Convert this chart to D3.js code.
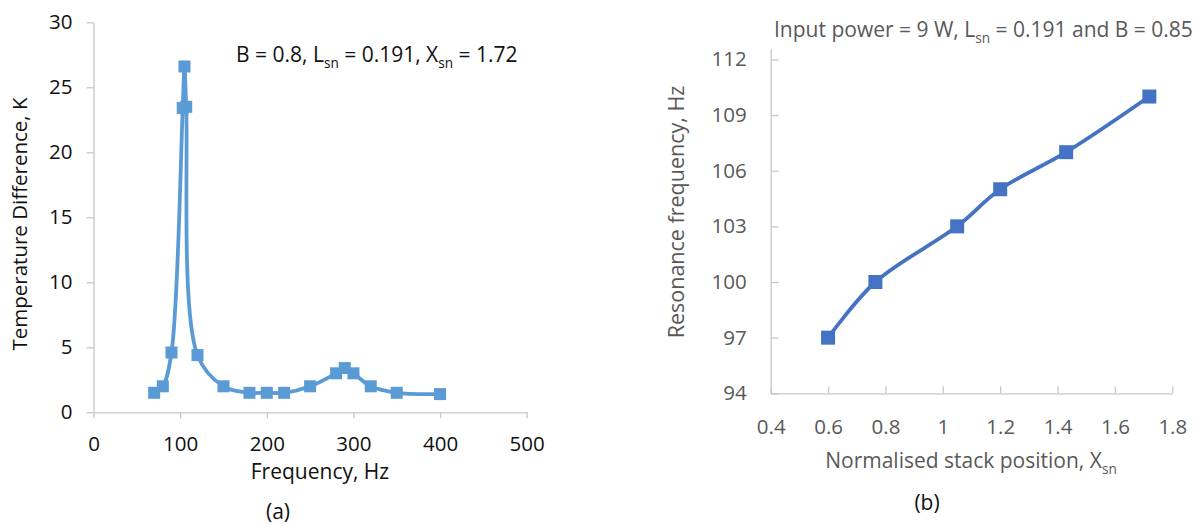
<!DOCTYPE html>
<html>
<head>
<meta charset="utf-8">
<script src="https://cdn.jsdelivr.net/npm/d3@7.9.0/dist/d3.min.js"></script>
<style>
  html, body { margin: 0; padding: 0; background: #fff; }
  svg { display: block; font-family: "Open Sans", "Noto Sans", sans-serif; }
  .axis path, .axis line { stroke: #c8c8c8; stroke-width: 1.3; }
</style>
</head>
<body>
<svg id="chart" width="1201" height="524"></svg>
<script>
// ---- data: (a) temperature difference vs frequency ----
const freqA = [70, 80, 90, 103, 105, 107, 120, 150, 180, 200, 220, 250, 280, 290, 300, 320, 350, 400];
const dTempA = [1.5, 2.0, 4.6, 23.4, 26.6, 23.5, 4.4, 2.0, 1.5, 1.5, 1.5, 2.0, 3.0, 3.4, 3.0, 2.0, 1.5, 1.4];
const xTicksA = [0, 100, 200, 300, 400, 500];
const yTicksA = [0, 5, 10, 15, 20, 25, 30];

// ---- data: (b) resonance frequency vs stack position ----
const xsnB = [0.6, 0.765, 1.05, 1.2, 1.43, 1.72];
const fresB = [97, 100, 103, 105, 107, 110];
const xTicksB = [0.4, 0.6, 0.8, 1, 1.2, 1.4, 1.6, 1.8];
const yTicksB = [94, 97, 100, 103, 106, 109, 112];

const svg = d3.select('#chart');

// text with subscripts: parts = [[text, isSub], ...]
function richText(g, parts, fontSize) {
  const t = g.append('text').attr('font-size', fontSize);
  const shift = fontSize * 0.28;
  parts.forEach(([s, sub], i) => {
    const ts = t.append('tspan').text(s);
    if (sub) ts.attr('font-size', fontSize * 0.65).attr('dy', shift);
    else if (i > 0 && parts[i - 1][1]) ts.attr('dy', -shift);
  });
  return t;
}

// ========== chart (a) ==========
{
  const ink = '#111';
  const x = d3.scaleLinear().domain([0, 500]).range([93.5, 526.7]);
  const y = d3.scaleLinear().domain([0, 30]).range([412.3, 22.3]);

  const gx = svg.append('g').attr('class', 'axis')
    .attr('transform', `translate(0,${y(0)})`)
    .call(d3.axisBottom(x).tickValues(xTicksA).tickSize(6).tickSizeOuter(0).tickPadding(18));
  const gy = svg.append('g').attr('class', 'axis')
    .attr('transform', `translate(${x(0)},0)`)
    .call(d3.axisLeft(y).tickValues(yTicksA).tickSize(7).tickSizeOuter(0).tickPadding(14));
  [gx, gy].forEach(g => g.selectAll('text')
    .attr('fill', ink).attr('font-size', 20.5).attr('font-family', '"Open Sans", sans-serif'));

  const line = d3.line()
    .x((d, i) => x(freqA[i]))
    .y(d => y(d))
    .curve(d3.curveCatmullRom);
  svg.append('path')
    .datum(dTempA)
    .attr('d', line)
    .attr('fill', 'none')
    .attr('stroke', '#5b9bd5')
    .attr('stroke-width', 3.8);

  const m = 12;
  svg.append('g').selectAll('rect')
    .data(dTempA)
    .join('rect')
    .attr('x', (d, i) => x(freqA[i]) - m / 2)
    .attr('y', d => y(d) - m / 2)
    .attr('width', m).attr('height', m)
    .attr('fill', '#5b9bd5');

  svg.append('text')
    .attr('transform', 'translate(27,224) rotate(-90)')
    .attr('text-anchor', 'middle')
    .attr('font-size', 20.5).attr('fill', ink)
    .text('Temperature Difference, K');

  svg.append('text')
    .attr('x', 320).attr('y', 479)
    .attr('text-anchor', 'middle')
    .attr('font-size', 21).attr('fill', ink)
    .text('Frequency, Hz');

  svg.append('text')
    .attr('x', 278).attr('y', 519)
    .attr('text-anchor', 'middle')
    .attr('font-size', 21).attr('fill', ink)
    .text('(a)');

  richText(svg.append('g'), [
    ['B = 0.8, L', false], ['sn', true], [' = 0.191, X', false], ['sn', true], [' = 1.72', false]
  ], 21).attr('x', 236).attr('y', 62).attr('fill', ink);
}

// ========== chart (b) ==========
{
  const ink = '#595959';
  const x = d3.scaleLinear().domain([0.4, 1.8]).range([770.7, 1172.3]);
  const y = d3.scaleLinear().domain([94, 112.6]).range([393.3, 48.3]);

  const gx = svg.append('g').attr('class', 'axis')
    .attr('transform', `translate(0,${y(94)})`)
    .call(d3.axisBottom(x).tickValues(xTicksB).tickSize(-7).tickSizeOuter(0).tickPadding(26)
      .tickFormat(d => String(+d.toFixed(1))));
  const gy = svg.append('g').attr('class', 'axis')
    .attr('transform', `translate(${x(0.4)},0)`)
    .call(d3.axisLeft(y).tickValues(yTicksB).tickSize(-8).tickSizeOuter(0).tickPadding(24));
  [gx, gy].forEach(g => g.selectAll('text')
    .attr('fill', ink).attr('font-size', 20.5).attr('font-family', '"Open Sans", sans-serif'));

  const line = d3.line()
    .x((d, i) => x(xsnB[i]))
    .y(d => y(d))
    .curve(d3.curveCatmullRom);
  svg.append('path')
    .datum(fresB)
    .attr('d', line)
    .attr('fill', 'none')
    .attr('stroke', '#4472c4')
    .attr('stroke-width', 3.8);

  const m = 14;
  svg.append('g').selectAll('rect')
    .data(fresB)
    .join('rect')
    .attr('x', (d, i) => x(xsnB[i]) - m / 2)
    .attr('y', d => y(d) - m / 2)
    .attr('width', m).attr('height', m)
    .attr('fill', '#4472c4');

  svg.append('text')
    .attr('transform', 'translate(684,212) rotate(-90)')
    .attr('text-anchor', 'middle')
    .attr('font-size', 21.5).attr('fill', ink)
    .text('Resonance frequency, Hz');

  richText(svg.append('g'), [
    ['Normalised stack position, X', false], ['sn', true]
  ], 21).attr('x', 971).attr('y', 468).attr('text-anchor', 'middle').attr('fill', ink);

  svg.append('text')
    .attr('x', 927).attr('y', 510)
    .attr('text-anchor', 'middle')
    .attr('font-size', 21).attr('fill', '#111')
    .text('(b)');

  richText(svg.append('g'), [
    ['Input power = 9 W, L', false], ['sn', true], [' = 0.191 and B = 0.85', false]
  ], 21).attr('x', 774).attr('y', 37).attr('fill', ink);
}
</script>
</body>
</html>
